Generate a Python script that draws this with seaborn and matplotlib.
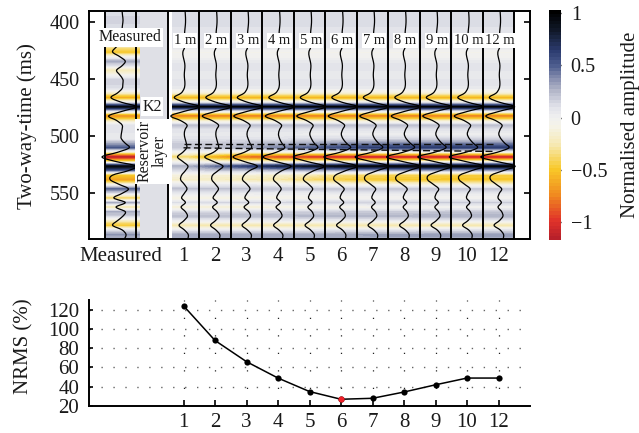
import numpy as np
import matplotlib
matplotlib.use('Agg')
import matplotlib.pyplot as plt
from matplotlib.colors import LinearSegmentedColormap
from matplotlib.path import Path
from matplotlib.patches import PathPatch
import seaborn as sns

# sample times are 390, 394, ... 590 ms
t0 = 390
dt = 4
yticks_ms = [400, 450, 500, 550]

# all model traces look the same above the reservoir (390-494 ms)
model_upper = [.10, .12, .13, .12, .09, .07, .09, .10, .07, -.04, -.02, .05, .09, .07,
               .05, .07, .09, .04, -.15, -.58, .05, 1.02, .05, -.80, -.20, .22, .10]

measured = [.10, .13, .16, .13, .10, .10, .10, .02, -.30, -.50, -.05, .30, .10, -.25,
            -.05, .15, .15, .10, -.20, -.60, .05, 1.00, .10, -.75, -.25, .10, .10,
            .05, .05, .30, .55, -.20, -1.17, -.30, 1.00, .50, -.50, -.65, -.10, .50,
            .10, -.42, .30, -.28, .30, .15, -.20, -.50, .10, .35, .25]

# 498-590 ms for each model
m1 = [.05, .10, .18, .20, -.05, -.38, -.05, .28, .12, -.12, -.18, .05, .22, .05, -.12, .12, -.15, .12, .25, .02, -.28, .05, .30, .28]
m2 = [.05, .10, .18, .22, -.10, -.65, -.10, .50, .20, -.15, -.20, .03, .22, .05, -.12, .14, -.15, .12, .25, .02, -.28, .05, .30, .28]
m3 = [.03, .10, .22, .32, -.15, -.85, -.15, .68, .20, -.15, -.25, .03, .22, .03, -.10, .14, -.15, .14, .25, .02, -.28, .05, .30, .28]
m4 = [.03, .10, .25, .42, -.12, -.95, -.15, .82, .25, -.18, -.28, .00, .20, .03, -.08, .15, -.12, .15, .25, .02, -.28, .05, .30, .28]
m5 = [.02, .12, .30, .52, -.10, -1.02, -.15, .92, .28, -.25, -.38, -.05, .20, .03, -.06, .16, -.10, .16, .26, .03, -.28, .06, .30, .28]
m6 = [.02, .12, .35, .60, -.08, -1.08, -.12, 1.00, .30, -.35, -.45, -.10, .20, .04, -.05, .17, -.08, .18, .27, .03, -.28, .08, .30, .28]
m7 = [.02, .14, .38, .64, -.08, -1.10, -.12, 1.02, .30, -.40, -.48, -.12, .20, .05, -.04, .17, -.06, .18, .27, .04, -.28, .08, .32, .30]
m8 = [.02, .14, .40, .66, -.08, -1.10, -.10, 1.03, .30, -.42, -.50, -.12, .20, .05, -.04, .17, -.05, .18, .27, .04, -.28, .08, .32, .30]
m9 = [.02, .15, .40, .66, -.08, -1.12, -.10, 1.03, .30, -.43, -.50, -.14, .20, .05, -.03, .18, -.04, .19, .28, .04, -.28, .10, .32, .30]
m10 = [.02, .15, .40, .66, -.10, -1.12, -.10, 1.05, .30, -.45, -.50, -.15, .20, .05, -.03, .18, -.03, .20, .28, .05, -.28, .10, .32, .30]
m12 = [.02, .15, .40, .66, -.10, -1.12, -.10, 1.05, .30, -.45, -.50, -.15, .20, .05, -.03, .18, -.03, .20, .28, .05, -.28, .10, .32, .30]

model_names = ['1', '2', '3', '4', '5', '6', '7', '8', '9', '10', '12']
model_lowers = [m1, m2, m3, m4, m5, m6, m7, m8, m9, m10, m12]
nrms = [124, 88, 66, 49, 35, 27, 28, 34.5, 42, 49, 49]
best_model = '6'

# top and base of the reservoir layer, ms (at first and last model)
res_top = [506.8, 506.8]
res_base = [510, 513.2]

cbar_ticks = [1, 0.5, 0, -0.5, -1]
cbar_labels = ['1', '0.5', '0', '\u22120.5', '\u22121']
vmin, vmax = -1.17, 1.03

stops = [(-1.17, '#b8202a'), (-1, '#e0322a'), (-.75, '#f08a20'), (-.5, '#f8c828'),
         (-.25, '#f6eab8'), (-.08, '#f5f3e8'), (0, '#f0f0f0'), (.1, '#e2e3ea'),
         (.25, '#b8bbcc'), (.4, '#7f88aa'), (.5, '#4f5f90'), (.65, '#2c3c70'),
         (.85, '#101828'), (1.03, '#000000')]
cmap = LinearSegmentedColormap.from_list(
    'seis', [((v - vmin) / (vmax - vmin), c) for v, c in stops], N=64)

sns.set_theme(style='white')
plt.rcParams['font.family'] = ['Liberation Serif', 'DejaVu Serif']
plt.rcParams['axes.edgecolor'] = 'black'
plt.rcParams['text.color'] = '#1a1a1a'
plt.rcParams['xtick.color'] = '#1a1a1a'
plt.rcParams['ytick.color'] = '#1a1a1a'

W, H = 639, 433
fig = plt.figure(figsize=(W / 100, H / 100), dpi=100)


def px_axes(left, top, right, bottom):
    return fig.add_axes([left / W, 1 - bottom / H, (right - left) / W, (bottom - top) / H])


ax = px_axes(89, 11, 530, 239)
cax = px_axes(549, 10, 561, 240)
ax2 = px_axes(89, 300, 530, 406)


def row(ms):
    # heatmap cell i is centred on i + .5
    return (np.asarray(ms) - t0) / dt + .5


def smooth_path(x, y):
    # curve through every sample, so the wiggle is not a zigzag
    pts = np.column_stack([x, y])
    prev = np.vstack([pts[0], pts[:-1]])
    nxt = np.vstack([pts[1:], pts[-1]])
    tang = (nxt - prev) / 6
    verts = [pts[0]]
    codes = [Path.MOVETO]
    for i in range(len(pts) - 1):
        verts += [pts[i] + tang[i], pts[i + 1] - tang[i + 1], pts[i + 1]]
        codes += [Path.CURVE4] * 3
    return Path(verts, codes)


# columns: measured, blank one for the reservoir panel, then the models
traces = [np.array(measured)] + [np.array(model_upper + m) for m in model_lowers]
n = len(traces[0])
matrix = np.full((n, len(traces) + 1), np.nan)
matrix[:, 0] = traces[0]
for i, tr in enumerate(traces[1:]):
    matrix[:, i + 2] = tr

sns.heatmap(matrix, ax=ax, cmap=cmap, vmin=vmin, vmax=vmax, cbar_ax=cax,
            xticklabels=False, yticklabels=False)

# the section is shaded smoothly on top of the heatmap cells
ax.axvspan(1, 2, color='#dfe0e6', lw=0, zorder=0)
ax.axvspan(2, 2.15, color='white', lw=0, zorder=1.5)
ax.imshow(matrix[:, [0, 0]], extent=(0, 1.08, n, 0), aspect='auto', cmap=cmap, vmin=vmin, vmax=vmax,
          interpolation='bilinear', zorder=2)
ax.imshow(matrix[:, 2:], extent=(2.15, 13, n, 0), aspect='auto', cmap=cmap, vmin=vmin, vmax=vmax,
          interpolation='bilinear', zorder=2)

for col, tr in zip([0] + list(range(2, len(traces) + 1)), traces):
    p = smooth_path(col + .5 + tr * .5, row(t0 + dt * np.arange(n)))
    ax.add_patch(PathPatch(p, fc='none', ec='black', lw=0.9, zorder=4))

for k in range(len(traces) + 2):
    ax.axvline(k, color='black', lw=1.4, zorder=5)

xpos = np.arange(len(model_names)) + 2.5
for y in (res_top, res_base):
    sns.lineplot(x=[xpos[0], xpos[-1] - .1], y=row(y), ax=ax, color='#111111', lw=1.0,
                 ls=(0, (5, 2.5)), estimator=None, zorder=4.5)

box = dict(facecolor='white', edgecolor='none', pad=1.2)
ax.text(.8, row(413), 'Measured', ha='center', va='center', fontsize=11.5, bbox=box, zorder=6)
ax.text(1.5, row(474), 'K2', ha='center', va='center', fontsize=11.5, bbox=box, zorder=6)
ax.text(1.5, row(513), 'Reservoir\nlayer', rotation=90, ha='center', va='center', fontsize=11.5,
        linespacing=0.9, bbox=box, zorder=6)
for x, name in zip(xpos, model_names):
    ax.text(x + .05, row(416), name + ' m', ha='center', va='center', fontsize=10.5,
            bbox=dict(facecolor='white', edgecolor='none', pad=0.8), zorder=6)

ax.set_xlim(-.5, 13.5)
ax.set_ylim(row(590), row(390))
ax.set_yticks(row(yticks_ms))
ax.set_yticklabels([str(v) for v in yticks_ms], fontsize=14.5)
ax.set_xticks([.5] + list(xpos))
ax.set_xticklabels(['Measured'] + model_names, fontsize=15)
ax.tick_params(axis='y', direction='in', length=4, width=1.2, left=True, right=True, color='black', pad=7)
ax.tick_params(axis='x', length=0, pad=6)
for s in ax.spines.values():
    s.set_visible(True)
    s.set_linewidth(1.4)
    s.set_color('black')
    s.set_zorder(7)

cb = ax.collections[0].colorbar
cb.outline.set_visible(False)
cb.set_ticks(cbar_ticks)
cb.set_ticklabels(cbar_labels, fontsize=14.5)
cax.tick_params(direction='in', length=2.5, width=1, left=True, right=True, color='black', pad=7)

fig.text(27 / W, 1 - 126 / H, 'Two-way-time (ms)', rotation=90, ha='center', va='center', fontsize=15)
fig.text(630 / W, 1 - 125 / H, 'Normalised amplitude', rotation=90, ha='center', va='center', fontsize=15)
fig.text(24 / W, 1 - 346 / H, 'NRMS (%)', rotation=90, ha='center', va='center', fontsize=15)

# bottom panel
sns.lineplot(x=xpos, y=nrms, ax=ax2, color='black', lw=1.1, estimator=None, zorder=3)
sns.scatterplot(x=xpos, y=nrms, ax=ax2, color='black', s=20, linewidth=0, zorder=4)
best = model_names.index(best_model)
sns.scatterplot(x=[xpos[best]], y=[nrms[best]], ax=ax2, color='#ee2028', s=20, linewidth=0, zorder=5)

ax2.set_xlim(-.5, 13.5)
ax2.set_ylim(20, 130)
ax2.set_xticks(xpos)
ax2.set_xticklabels(model_names, fontsize=15)
ax2.set_yticks([20, 40, 60, 80, 100, 120])
ax2.set_yticklabels(['20', '40', '60', '80', '100', '120'], fontsize=15)
ax2.tick_params(axis='both', direction='in', length=4, width=1.2, color='black', bottom=True, left=True, pad=5)
ax2.tick_params(axis='y', length=3, pad=7)
sns.despine(ax=ax2)
for s in ('left', 'bottom'):
    ax2.spines[s].set_linewidth(1.4)
    ax2.spines[s].set_color('black')
ax2.grid(True, axis='y', color='#666666', lw=1.0, ls=(0, (1, 7.6)))
ax2.grid(True, axis='x', color='#222222', lw=0.9, ls=(0, (1, 13)))
ax2.set_axisbelow(True)

fig.savefig('out.png', dpi=100)
